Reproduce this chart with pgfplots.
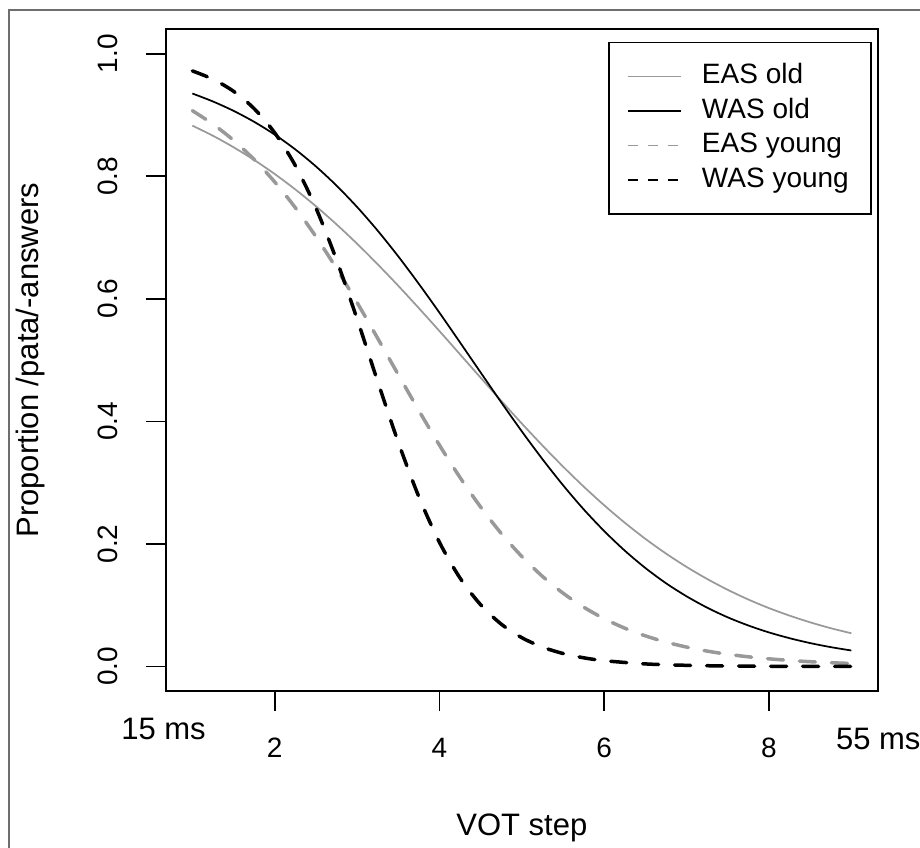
\documentclass[border=0pt]{standalone}
\usepackage{pgfplots}
\pgfplotsset{compat=1.18}
\usepackage{fontspec}
\setmainfont{Liberation Sans}
\definecolor{rgray}{RGB}{153,153,153}
\definecolor{framegray}{RGB}{110,110,110}
\begin{document}
\begin{tikzpicture}
\useasboundingbox (0,0) rectangle (460bp,424bp);
\draw[framegray, line width=1bp] (4.5bp,-20bp) rectangle (480bp,419bp);
\begin{axis}[
  at={(83bp,78.5bp)}, anchor=south west,
  scale only axis, width=355.85bp, height=330.85bp,
  xmin=0.68, xmax=9.32, ymin=-0.04, ymax=1.04,
  clip=false,
  axis line style={black, line width=0.9bp},
  xtick={2,4,6,8}, xticklabels={2,4,6,8},
  ytick={0,0.2,0.4,0.6,0.8,1}, yticklabels={0.0,0.2,0.4,0.6,0.8,1.0},
  xtick pos=bottom, ytick pos=left,
  tick align=outside, major tick length=10bp,
  tick style={black, line width=0.9bp},
  tick label style={font=\fontsize{14bp}{16bp}\selectfont, inner sep=0pt},
  xticklabel style={anchor=base},
  yticklabel style={rotate=90, anchor=base},
  xticklabel shift=23bp,
  yticklabel shift=14bp,
  label style={font=\fontsize{15.5bp}{18bp}\selectfont, inner sep=0pt},
  xlabel={VOT step},
  ylabel={Proportion /pata/-answers},
  xlabel style={at={([yshift=-72bp]axis description cs:0.5,0)}, anchor=base},
  ylabel style={at={([xshift=-63.5bp]axis description cs:0,0.5)}, rotate=0, anchor=base},
  legend style={
    at={(1,1)}, anchor=north east, xshift=-3bp, yshift=-6.2bp,
    draw=black, line width=0.9bp,
    inner xsep=9bp, inner ysep=8.4bp,
    font=\fontsize{14bp}{16bp}\selectfont,
    cells={anchor=west},
    nodes={inner sep=2bp, text height=10.3bp, text depth=2.9bp},
    column sep=8bp,
  },
  legend cell align=left,
  legend image code/.code={\draw[#1] (0bp,0bp) -- (26.65bp,0bp);},
]
% EAS old
\addplot[rgray, line width=0.87bp, smooth] coordinates {
(1,0.8828) (1.25,0.8662) (1.5,0.8475) (1.75,0.8267) (2,0.8038) (2.25,0.7786) (2.5,0.7512) (2.75,0.7216)
(3,0.6900) (3.25,0.6564) (3.5,0.6213) (3.75,0.5848) (4,0.5474) (4.25,0.5094) (4.5,0.4713) (4.75,0.4335)
(5,0.3965) (5.25,0.3607) (5.5,0.3263) (5.75,0.2937) (6,0.2631) (6.25,0.2346) (6.5,0.2083) (6.75,0.1843)
(7,0.1625) (7.25,0.1428) (7.5,0.1251) (7.75,0.1093) (8,0.0953) (8.25,0.0830) (8.5,0.0721) (8.75,0.0625) (9,0.0542)
};
\addlegendentry{EAS old}
% WAS old
\addplot[black, line width=0.87bp, smooth] coordinates {
(1,0.9352) (1.25,0.9222) (1.5,0.9069) (1.75,0.8890) (2,0.8681) (2.25,0.8439) (2.5,0.8162) (2.75,0.7849)
(3,0.7499) (3.25,0.7113) (3.5,0.6693) (3.75,0.6244) (4,0.5774) (4.25,0.5288) (4.5,0.4798) (4.75,0.4311)
(5,0.3837) (5.25,0.3384) (5.5,0.2959) (5.75,0.2566) (6,0.2210) (6.25,0.1890) (6.5,0.1607) (6.75,0.1359)
(7,0.1145) (7.25,0.0960) (7.5,0.0802) (7.75,0.0669) (8,0.0556) (8.25,0.0462) (8.5,0.0382) (8.75,0.0316) (9,0.0261)
};
\addlegendentry{WAS old}
% EAS young
\addplot[rgray, line width=1.75bp, dash pattern=on 8bp off 8bp, line cap=round, smooth,
  legend image post style={line width=0.87bp, dash pattern=on 5bp off 5bp, line cap=butt}] coordinates {
(1,0.9072) (1.25,0.8852) (1.5,0.8588) (1.75,0.8274) (2,0.7908) (2.25,0.7488) (2.5,0.7016) (2.75,0.6496)
(3,0.5939) (3.25,0.5356) (3.5,0.4763) (3.75,0.4176) (4,0.3612) (4.25,0.3084) (4.5,0.2602) (4.75,0.2171)
(5,0.1795) (5.25,0.1471) (5.5,0.1197) (5.75,0.0969) (6,0.0780) (6.25,0.0625) (6.5,0.0500) (6.75,0.0398)
(7,0.0317) (7.25,0.0251) (7.5,0.0199) (7.75,0.0158) (8,0.0125) (8.25,0.0099) (8.5,0.0078) (8.75,0.0062) (9,0.0049)
};
\addlegendentry{EAS young}
% WAS young
\addplot[black, line width=1.75bp, dash pattern=on 8bp off 8bp, line cap=round, smooth,
  legend image post style={line width=0.87bp, dash pattern=on 5bp off 5bp, line cap=butt}] coordinates {
(1,0.9721) (1.25,0.9585) (1.5,0.9388) (1.75,0.9105) (2,0.8710) (2.25,0.8176) (2.5,0.7484) (2.75,0.6637)
(3,0.5671) (3.25,0.4651) (3.5,0.3659) (3.75,0.2769) (4,0.2026) (4.25,0.1443) (4.5,0.1007) (4.75,0.0691)
(5,0.0470) (5.25,0.0317) (5.5,0.0212) (5.75,0.0142) (6,0.0095) (6.5,0.0042) (7,0.0019) (7.5,0.0008)
(8,0.0004) (8.5,0.0002) (9,0.0001)
};
\addlegendentry{WAS young}
\node[anchor=base, font=\fontsize{15.5bp}{18bp}\selectfont, inner sep=0pt, yshift=-24.5bp] at (axis cs:0.65,-0.04) {15 ms};
\node[anchor=base west, font=\fontsize{15.5bp}{18bp}\selectfont, inner sep=0pt, yshift=-29.5bp] at (axis cs:8.81,-0.04) {55 ms};
\end{axis}
\end{tikzpicture}
\end{document}
